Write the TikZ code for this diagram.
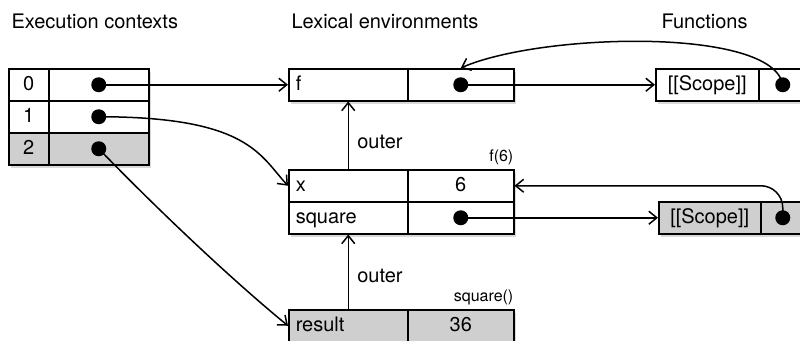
\documentclass[tikz,border=0pt]{standalone}
\usepackage{fontspec}
\setmainfont{TeX Gyre Heros}
\usepackage{tikz}
\usetikzlibrary{arrows.meta}
\usetikzlibrary{shadows}
\usetikzlibrary{positioning}

\definecolor{cellgray}{gray}{0.81}

\tikzset{
  cell/.style={draw, line width=1.5pt, fill=#1, anchor=north west, inner sep=0pt,
    minimum height=32pt, text height=15pt, text depth=4pt,
    drop shadow={opacity=0.3, shadow xshift=2pt, shadow yshift=-3pt}},
  cell/.default=white,
  namecell/.style={cell=#1, text width=105pt, inner xsep=7pt, align=left},
  namecell/.default=white,
  dot/.style={circle, fill=black, inner sep=0pt, minimum size=15pt},
  link/.style={line width=1.5pt, -{Straight Barb[length=8pt,width=13pt]}},
  title/.style={anchor=base west},
  note/.style={font=\fontsize{16}{19}\selectfont, inner sep=1pt}
}

\begin{document}
\begin{tikzpicture}[x=1pt, y=-1pt, font=\fontsize{20}{24}\selectfont]
    \useasboundingbox (0,0) rectangle (800,340);

    \node[title] (tec) at (8,28) {Execution contexts};
    \node[title] (tle) at (288,28) {Lexical environments};
    \node[title] (tfn) at (658,28) {Functions};

    % execution contexts
    \foreach \i/\y/\c in {0/68/white,1/100/white,2/132/cellgray} {
        \node[cell=\c, minimum width=40pt] (ek\i) at (8,\y) {\i};
        \node[cell=\c, minimum width=100pt] (ev\i) at (48,\y) {};
        \node[dot] (ed\i) at (ev\i.center) {};
    }

    % lexical environments
    \node[namecell] (fk) at (288,68) {f};
    \node[cell, minimum width=106pt] (fv) at (407,68) {};
    \node[dot] (fd) at (fv.center) {};

    \node[namecell] (xk) at (288,169) {x};
    \node[cell, minimum width=106pt] (xv) at (407,169) {6};
    \node[namecell] (sk) at (288,201) {square};
    \node[cell, minimum width=106pt] (sv) at (407,201) {};
    \node[dot] (sd) at (sv.center) {};
    \node[note, above left=3pt and 0pt of xv.north east] (xlab) {f(6)};

    \node[namecell=cellgray] (rk) at (288,309) {result};
    \node[cell=cellgray, minimum width=106pt] (rv) at (407,309) {36};
    \node[note, above left=3pt and 0pt of rv.north east] (rlab) {square()};

    % functions
    \node[cell, minimum width=103pt] (sc1) at (655,68) {[[Scope]]};
    \node[cell, minimum width=48pt] (sc1v) at (758,68) {};
    \node[dot] (sc1d) at (sc1v.center) {};
    \node[cell=cellgray, minimum width=102pt] (sc2) at (658,201) {[[Scope]]};
    \node[cell=cellgray, minimum width=44pt] (sc2v) at (760,201) {};
    \node[dot] (sc2d) at (sc2v.center) {};

    \draw[link] (ed0.center) -- (fk.west);
    \draw[link] (ed1.center) .. controls +(150,0) and +(-28,-30) .. (xk.west);
    \draw[link] (ed2.center) .. controls +(60,62) and +(-55,-45) .. (rk.west);
    \draw[link] (fd.center) -- (sc1.west);
    \draw[link] (sd.center) -- (sc2.west);
    \draw[link] (sc1d.center) .. controls +(-10,-58) and +(80,-35) .. (fv.north);
    \draw[link, rounded corners=22pt] (sc2d.center) |- (xv.east);

    \draw[link] (xk.north) -- node[right=5pt, pos=0.4] (o1) {outer} (fk.south);
    \draw[link] (rk.north) -- node[right=5pt, pos=0.45] (o2) {outer} (sk.south);
\end{tikzpicture}
\end{document}
